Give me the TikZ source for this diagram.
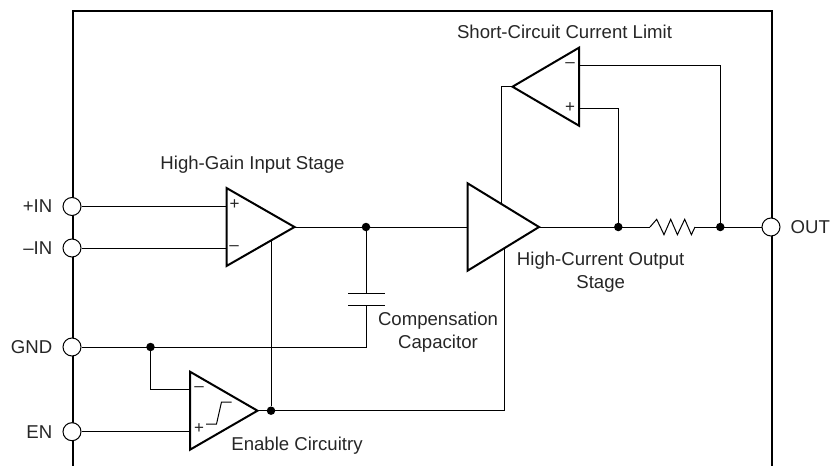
\documentclass[tikz,border=0pt]{standalone}
\usepackage{fontspec}
\setmainfont{Liberation Sans}
\usetikzlibrary{positioning, shapes.geometric}

\begin{document}
\begin{tikzpicture}[x=1pt, y=-1pt,
  every node/.style={font=\fontsize{18.6}{23}\selectfont, text=black!85},
  amp/.style={isosceles triangle, isosceles triangle stretches, draw=black, line width=2pt,
    inner sep=0pt, outer sep=0pt, minimum width=78pt, minimum height=68pt, fill=white},
  pin/.style={circle, draw=black, line width=1pt, fill=white, minimum size=18pt, inner sep=0pt},
  jdot/.style={circle, fill=black, minimum size=8.5pt, inner sep=0pt},
  sign/.style={font=\fontsize{17}{17}\selectfont, inner sep=0pt},
  wire/.style={line width=1pt},
  frame/.style={line width=2pt}]

\useasboundingbox (0,0) rectangle (831,466);

\coordinate (framebl) at (72.5,466);
\coordinate (frametl) at (72.5,11);
\coordinate (frametr) at (771.5,11);
\coordinate (framebr) at (771.5,466);
\draw[frame] (framebl) -- (frametl) -- (frametr) -- (framebr);

\node[amp, anchor=apex] (inamp) at (294.5,227) {};
\node[amp, anchor=apex, minimum width=87.5pt, minimum height=71.5pt] (outamp) at (539,227) {};
\node[amp, anchor=apex, minimum height=67.5pt] (enamp) at (257.5,410.7) {};
\node[amp, anchor=apex, shape border rotate=180, minimum height=66.5pt] (limamp) at (512.5,86.7) {};

\node[pin] (pluspin) at (72,206.5) {};
\node[pin] (minuspin) at (72,248) {};
\node[pin] (gndpin) at (72,347) {};
\node[pin] (enpin) at (72,431.7) {};
\node[pin] (outpin) at (771,227) {};

\node[left=10pt of pluspin, inner sep=0pt] (pluslabel) {+IN};
\node[left=10pt of minuspin, inner sep=0pt] (minuslabel) {–IN};
\node[left=10pt of gndpin, inner sep=0pt] (gndlabel) {GND};
\node[left=10pt of enpin, inner sep=0pt] (enlabel) {EN};
\node[right=10pt of outpin, inner sep=0pt] (outlabel) {OUT};

\node (inlabel) at (252.5,165) {High-Gain Input Stage};
\node (limlabel) at (564.5,32) {Short-Circuit Current Limit};
\node[align=center] (outamplabel) at (600.7,272.5) {High-Current Output\\Stage};
\node[align=center] (caplabel) at (438,332) {Compensation\\Capacitor};
\node (enamplabel) at (297,445.5) {Enable Circuitry};

\node[sign] (inplus) at (234.5,205) {+};
\node[sign] (inminus) at (234,248.5) {–};
\node[sign] (enminus) at (199,389.5) {–};
\node[sign] (enplus) at (199,429) {+};
\node[sign] (limminus) at (570,65) {–};
\node[sign] (limplus) at (570,108) {+};

\node[jdot] (gnddot) at (150.5,347) {};
\node[jdot] (endot) at (271,410.7) {};
\node[jdot] (capdot) at (366,227) {};
\node[jdot] (fbdot) at (618.3,227) {};
\node[jdot] (sensedot) at (720.3,227) {};

\coordinate (capbot) at (366,347);
\coordinate (captop) at (366,293.3);
\coordinate (caplow) at (366,305.7);
\coordinate (entap) at (271,241);
\coordinate (outtap) at (504.5,248.7);
\coordinate (limtap) at (501.7,203.6);
\coordinate (resin) at (650,227);
\coordinate (resout) at (695,227);

\draw[wire] (pluspin) -- (pluspin -| inamp.lower side);
\draw[wire] (minuspin) -- (minuspin -| inamp.lower side);
\draw[wire] (gndpin) -- (capbot) -- (caplow);
\draw[wire] (captop) -- (capdot);
\draw[wire] ([xshift=-18pt]captop) -- ([xshift=19pt]captop);
\draw[wire] ([xshift=-18pt]caplow) -- ([xshift=19pt]caplow);
\draw[wire] (gnddot) |- (enminus -| enamp.lower side);
\draw[wire] (enpin) -- (enpin -| enamp.lower side);
\draw[wire] (enamp.apex) -- (endot) -- (entap);
\draw[wire] (endot) -| (outtap);
\draw[wire] (inamp.apex) -- (outamp.lower side);
\draw[wire] (outamp.apex) -- (resin);
\draw[wire] (resin) -- ++(6.7,-7.7) -- ++(7.3,15.4) -- ++(6.7,-15.4) -- ++(6.7,15.4) -- ++(7.3,-15.4) -- ++(6.7,15.4) -- (resout);
\draw[wire] (resout) -- (outpin);
\draw[wire] (limtap) |- (limamp.apex);
\draw[wire] (limminus -| limamp.lower side) -| (sensedot);
\draw[wire] (limplus -| limamp.lower side) -| (fbdot);
\draw[wire] (206,424) -- (216.5,424) -- (221.5,402) -- (231.7,402);

\end{tikzpicture}
\end{document}
